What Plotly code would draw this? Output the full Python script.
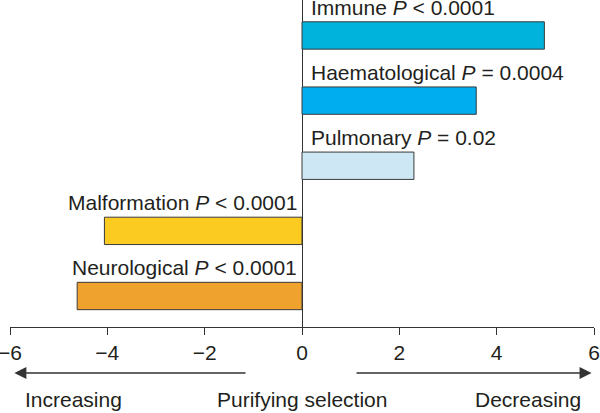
import plotly.graph_objects as go

categories = ["Neurological", "Malformation", "Pulmonary", "Haematological", "Immune"]
values = [-4.62, -4.06, 2.30, 3.58, 4.98]
p_texts = ["<i>P</i> < 0.0001", "<i>P</i> < 0.0001", "<i>P</i> = 0.02", "<i>P</i> = 0.0004", "<i>P</i> < 0.0001"]
colors = ["#f0a22e", "#fccb21", "#cde8f4", "#00aeef", "#00b3dc"]
tick_vals = [-6, -4, -2, 0, 2, 4, 6]
tick_text = ["\u22126", "\u22124", "\u22122", "0", "2", "4", "6"]

FONT = "Liberation Sans, Arial, sans-serif"
TXT = "#231f20"
FS = 21
positions = list(range(len(categories)))
bar_w = 0.42

fig = go.Figure()
fig.add_trace(go.Bar(
    x=values, y=positions, orientation="h", width=bar_w,
    marker=dict(color=colors, line=dict(color="#3a3a3a", width=1)),
    hoverinfo="skip", showlegend=False,
))

for pos, cat, v, p in zip(positions, categories, values, p_texts):
    fig.add_annotation(
        x=0, y=pos + bar_w / 2, xref="x", yref="y",
        text=f"{cat} {p}", showarrow=False,
        xanchor="left" if v > 0 else "right", yanchor="bottom",
        xshift=7 if v > 0 else -3, yshift=1,
        font=dict(family=FONT, size=FS, color=TXT),
    )

# direction arrows
arrow_y = -0.141
fig.add_annotation(x=-5.91, y=arrow_y, xref="x", yref="paper",
                   ax=-1.13, ay=0, axref="x", ayref="pixel",
                   text="", showarrow=True, arrowhead=2, arrowsize=1.6,
                   arrowwidth=1.5, arrowcolor="#333333", standoff=0)
fig.add_annotation(x=5.95, y=arrow_y, xref="x", yref="paper",
                   ax=1.09, ay=0, axref="x", ayref="pixel",
                   text="", showarrow=True, arrowhead=2, arrowsize=1.6,
                   arrowwidth=1.5, arrowcolor="#333333", standoff=0)

lab_y = -0.222
fig.add_annotation(x=0.023, y=lab_y, xref="paper", yref="paper", text="Increasing",
                   showarrow=False, xanchor="left", yanchor="middle",
                   font=dict(family=FONT, size=FS, color=TXT))
fig.add_annotation(x=0, y=lab_y, xref="x", yref="paper", text="Purifying selection",
                   showarrow=False, xanchor="center", yanchor="middle",
                   font=dict(family=FONT, size=FS, color=TXT))
fig.add_annotation(x=0.981, y=lab_y, xref="paper", yref="paper", text="Decreasing",
                   showarrow=False, xanchor="right", yanchor="middle",
                   font=dict(family=FONT, size=FS, color=TXT))

fig.update_layout(
    width=600, height=413,
    margin=dict(l=9.5, r=6, t=0, b=86, pad=0),
    paper_bgcolor="white", plot_bgcolor="white",
    bargap=0,
    xaxis=dict(range=[-6, 6], tickvals=tick_vals, ticktext=tick_text,
               automargin=False, ticklabeloverflow="allow",
               showgrid=False, zeroline=True, zerolinecolor="#333333", zerolinewidth=1,
               showline=True, linecolor="#333333", linewidth=1,
               ticks="outside", ticklen=7, tickcolor="#333333", tickwidth=1,
               tickfont=dict(family=FONT, size=FS, color=TXT)),
    yaxis=dict(range=[-0.476, 4.545], visible=False, fixedrange=True, automargin=False),
)

fig.write_html("out.html", config={"displayModeBar": False, "staticPlot": True},
               post_script="document.body.style.margin='0';")
